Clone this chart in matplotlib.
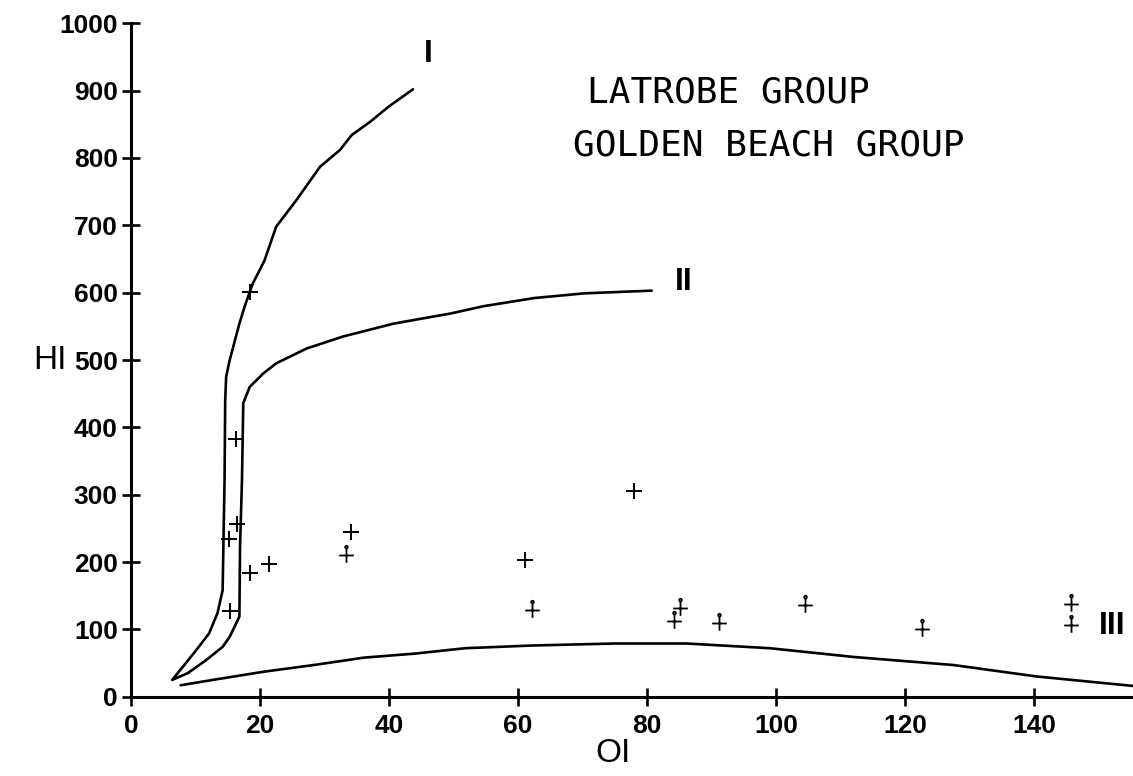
import numpy as np
import matplotlib.pyplot as plt
from matplotlib.path import Path

# kerogen type boundary curves
oi_I = [6.4, 8.0, 10.1, 12.1, 13.4, 14.2, 14.5, 14.6, 14.75, 15.3, 16.8, 17.6, 18.4,
        18.9, 19.7, 20.7, 22.5, 25.6, 29.3, 32.4, 34.2, 37.1, 39.9, 43.7]
hi_I = [25, 44, 69, 94, 124, 158, 322, 440, 475, 500, 554, 579, 601,
        614, 629, 648, 698, 737, 787, 812, 834, 854, 876, 902]

oi_II = [6.4, 8.8, 11.6, 14.2, 15.3, 16.3, 16.8, 16.9, 17.2, 17.4, 18.4, 20.5, 22.5,
         27.2, 32.9, 40.7, 49.5, 54.7, 62.5, 70.3, 80.7]
hi_II = [25, 35, 54, 74, 89, 109, 119, 223, 322, 436, 460, 480, 495,
         517, 535, 554, 569, 580, 592, 599, 603]

oi_III = [7.7, 12.7, 20.5, 28.3, 36.1, 44.0, 51.8, 62.1, 75.0, 86.1, 99.0, 112.0,
          127.5, 140.4, 155.3]
hi_III = [17, 25, 37, 47, 58, 64, 72, 76, 79, 79, 72, 59, 47, 30, 16]

# samples
latrobe_oi = [18.4, 16.2, 16.4, 15.2, 18.4, 21.4, 15.4, 34.1, 61.1, 77.9]
latrobe_hi = [601, 382, 256, 234, 184, 197, 128, 245, 203, 305]
golden_oi = [33.3, 62.1, 84.1, 85.1, 91.2, 104.4, 122.6, 145.7, 145.7]
golden_hi = [210, 129, 113, 131, 110, 136, 100, 138, 106]

x_ticks = [0, 20, 40, 60, 80, 100, 120, 140]
y_ticks = [0, 100, 200, 300, 400, 500, 600, 700, 800, 900, 1000]

# cross with a small loop on top for the second group
cross = Path([(-1, 0), (1, 0), (0, -1), (0, 1)],
             [Path.MOVETO, Path.LINETO, Path.MOVETO, Path.LINETO])
loop = Path.circle(center=(0, 1.15), radius=0.18)
dot_cross = Path.make_compound_path(cross, loop)

fig = plt.figure(figsize=(11.33, 7.76), dpi=100)
ax = fig.add_axes([131 / 1133, 1 - 696.7 / 776, 1 - 131 / 1133, (696.7 - 23.3) / 776])

lw = 1.9
ax.plot(oi_I, hi_I, color='black', lw=lw, solid_capstyle='round')
ax.plot(oi_II, hi_II, color='black', lw=lw, solid_capstyle='round')
ax.plot(oi_III, hi_III, color='black', lw=lw, solid_capstyle='round')

ax.plot(latrobe_oi, latrobe_hi, linestyle='none', marker='+', ms=11, mew=1.4, color='black')
ax.plot(golden_oi, golden_hi, linestyle='none', marker=dot_cross, ms=14, mew=1.3,
        color='black', mfc='none')

ax.set_xlim(0, 155.3)
ax.set_ylim(0, 1000)
ax.set_xticks(x_ticks)
ax.set_yticks(y_ticks)
for side in ['top', 'right']:
    ax.spines[side].set_visible(False)
for side in ['left', 'bottom']:
    ax.spines[side].set_linewidth(2.2)
ax.tick_params(direction='inout', length=13, width=1.9, color='black')
ax.tick_params(axis='y', pad=3)
ax.tick_params(axis='x', pad=6)
for lab in ax.get_xticklabels() + ax.get_yticklabels():
    lab.set_fontfamily('Liberation Sans')
    lab.set_fontweight('bold')
    lab.set_fontsize(19)

ax.set_xlabel('OI', fontsize=24, family='Liberation Sans', va='center')
ax.xaxis.set_label_coords((613 - 131) / 1002, -(754 - 696.7) / 673.4)
ax.set_ylabel('HI', fontsize=24, family='Liberation Sans', rotation=0,
              va='center', ha='center')
ax.yaxis.set_label_coords(-(131 - 50) / 1002, (696.7 - 361) / 673.4)

ax.text(70.7, 883, 'LATROBE GROUP', family='DejaVu Sans Mono', fontsize=26,
        ha='left', va='baseline')
ax.text(68.5, 804, 'GOLDEN BEACH GROUP', family='DejaVu Sans Mono', fontsize=26,
        ha='left', va='baseline')

rom = dict(family='Liberation Sans', fontweight='bold', fontsize=23, ha='center', va='center')
ax.text(46.1, 954, 'I', **rom)
ax.text(85.7, 616, 'II', **rom)
ax.text(152.0, 105, 'III', **rom)

fig.savefig('out.png', dpi=100)
